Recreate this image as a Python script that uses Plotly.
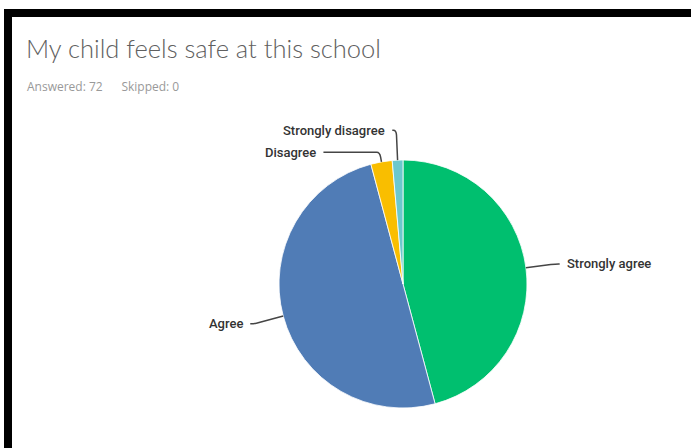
import math
import plotly.graph_objects as go

# ---- data ----
categories = ["Strongly agree", "Agree", "Disagree", "Strongly disagree"]
counts = [33, 36, 2, 1]
colors = ["#00BF6F", "#507CB6", "#F9BE00", "#6BC8CD"]
title_text = "My child feels safe at this school"
answered = 72
skipped = 0

# ---- layout geometry (pixels) ----
W, H = 691, 448
cx, cy, r = 403, 284, 124
label_r = r + 30
min_gap = 22

total = sum(counts)
mids = []
acc = 0
for v in counts:
    mids.append((acc + v / 2) / total * 2 * math.pi)
    acc += v

fig = go.Figure()
fig.add_trace(go.Pie(
    labels=categories, values=counts, sort=False, direction="clockwise", rotation=0,
    marker=dict(colors=colors, line=dict(color="#ffffff", width=0.8)),
    textinfo="none", hoverinfo="skip", showlegend=False,
    domain=dict(x=[(cx - r) / W, (cx + r) / W],
                y=[1 - (cy + r) / H, 1 - (cy - r) / H]),
))
fig.add_trace(go.Scatter(x=[], y=[], hoverinfo="skip", showlegend=False))

# label placement
items = []
for i, th in enumerate(mids):
    side = 1 if math.sin(th) > 0 else -1
    ly = cy - label_r * math.cos(th)
    items.append(dict(i=i, th=th, side=side, ly=ly, adjusted=False))
for side in (1, -1):
    grp = sorted([it for it in items if it["side"] == side], key=lambda d: d["ly"])
    prev = None
    for it in grp:
        if prev is not None and it["ly"] < prev + min_gap:
            it["ly"] = prev + min_gap
            it["adjusted"] = True
        prev = it["ly"]

shapes = []
annotations = []
for it in items:
    th, side, ly = it["th"], it["side"], it["ly"]
    dx, dy = math.sin(th), -math.cos(th)
    px, py = cx + r * dx, cy + r * dy
    if it["adjusted"]:
        lx = cx + side * math.sqrt(max(label_r ** 2 - (ly - cy) ** 2, 0))
    else:
        lx = cx + label_r * dx
    t = (ly - py) / dy if abs(dy) > 1e-6 else -1
    path = None
    if t > 0:
        ccx, ccy = px + t * dx, py + t * dy
        if (side < 0 and ccx > lx + 1) or (side > 0 and ccx < lx - 1) or abs(ccx - lx) <= 1:
            if side < 0:
                lx = min(lx, ccx - 4)
            else:
                lx = max(lx, ccx + 4)
            k = min(5, t)
            c1x, c1y = ccx - k * dx, ccy - k * dy
            c2x, c2y = ccx + side * 3, ccy
            path = f"M {px},{py} L {c1x},{c1y} Q {ccx},{ccy} {c2x},{c2y} L {lx},{ly}"
    if path is None:
        path = f"M {px},{py} L {lx},{ly}"
    shapes.append(dict(type="path", path=path, xref="x", yref="y",
                       line=dict(color="#454545", width=1.5)))
    annotations.append(dict(x=lx + side * 5, y=ly, xref="x", yref="y",
                            text=categories[it["i"]], showarrow=False,
                            xanchor="left" if side > 0 else "right", yanchor="middle",
                            font=dict(family="Roboto", size=13, color="#333333", weight=500)))

# title and subtitle
annotations.append(dict(x=24, y=48, xref="x", yref="y", text=title_text, showarrow=False,
                        xanchor="left", yanchor="middle",
                        font=dict(family="Lato", size=25.5, color="#606060", weight=300)))
annotations.append(dict(x=25, y=86, xref="x", yref="y",
                        text=f"Answered: {answered}&nbsp;&nbsp;&nbsp;&nbsp;&nbsp;&nbsp;Skipped: {skipped}",
                        showarrow=False, xanchor="left", yanchor="middle",
                        font=dict(family="Open Sans", size=12, color="#999999")))

# black frame
shapes.append(dict(type="rect", xref="x", yref="y", x0=4, x1=W, y0=9, y1=17,
                   fillcolor="#000000", line=dict(width=0), layer="above"))
shapes.append(dict(type="rect", xref="x", yref="y", x0=4, x1=12, y0=9, y1=H,
                   fillcolor="#000000", line=dict(width=0), layer="above"))

fig.update_layout(
    width=W, height=H, margin=dict(l=0, r=0, t=0, b=0),
    paper_bgcolor="#ffffff", plot_bgcolor="rgba(0,0,0,0)",
    xaxis=dict(range=[0, W], visible=False, fixedrange=True, domain=[0, 1]),
    yaxis=dict(range=[H, 0], visible=False, fixedrange=True, domain=[0, 1]),
    shapes=shapes, annotations=annotations, showlegend=False, hovermode=False,
)
fig.write_html(
    "out.html",
    config={"displayModeBar": False},
    post_script="document.body.style.margin='0';"
                "document.documentElement.style.overflow='hidden';"
                "document.body.style.overflow='hidden';",
)
